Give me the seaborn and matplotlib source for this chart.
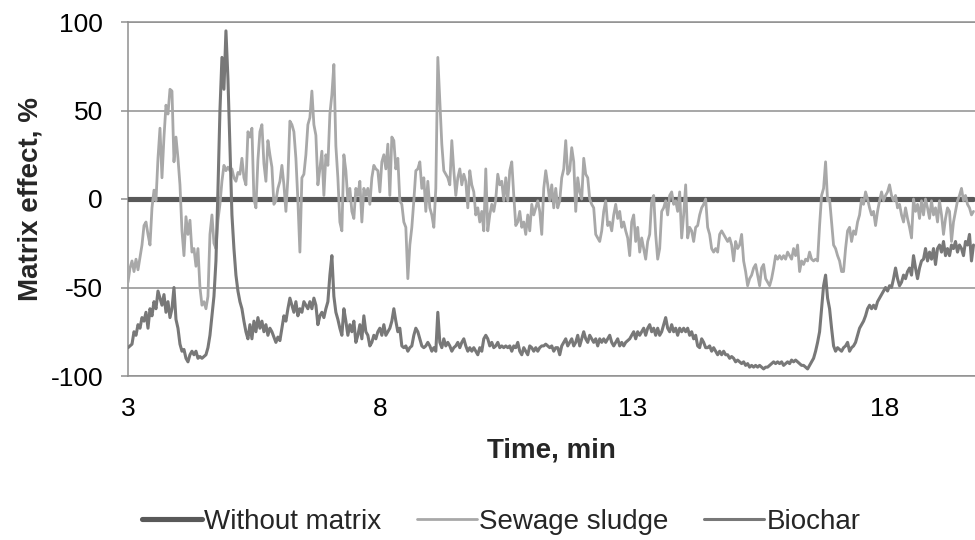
import numpy as np
import pandas as pd
import matplotlib
matplotlib.use("Agg")
import matplotlib.pyplot as plt
import seaborn as sns

# Retention window of the scan (min)
scan_start = 3.0
scan_end = 19.77

# Matrix effect (%) along the run, one value per scan
sewage_sludge = [
    -47, -39, -35, -41, -34, -40, -33, -26, -15, -13, -20, -26, -5, 5, -1, 23, 40, 12, 35, 53,
    48, 62, 61, 21, 35, 23, 8, -18, -32, -10, -20, -12, -30, -28, -38, -28, -50, -60, -58, -62,
    -55, -20, -9, -25, -28, -12, -3, 10, 19, 16, 18, 16, 17, 12, 10, 15, 14, 23, 12, 8,
    38, 35, 40, 0, -5, 22, 38, 42, 20, 10, 33, 25,
    18, -3, -1, 6, 10, 19, 8, -7, 12, 44, 42, 38, 23, -1, -30, 12, 14, 25, 42, 46,
    61, 42, 36, 8, 17, 27, 2, 25, 19, 48, 59, 76, 30, 12, -13, -18, 25, 16, -1, 6,
    -7, -11, 6, 2, 10, -13, 6, 2, 6, -3, 12, 19, 17, 16, 4, 21, 25, 17, 31, 2,
    35, 33, 17, 23, -1, -3, -13, -16, -45, -26, -16,
    -1, 16, 17, 21, 6, 12, -7, 10, -5, -9, -16, 6, 80, 55, 31, 16, 14, 12, 8, 33,
    16, 2, 12, 17, 8, 14, 10, -5, 16, 8, 4, -9, -5, -13, -7, -18, 17, -18, -9, -3,
    -7, 0, 14, 8, 10, -1, 12, -1, 16, 21, 2, -15, -13, -7, -16, -13, -20, -9, -18, -3,
    -9, -5, -1, -7, -20, 6, 16, 8, -1, 8, -5, 6,
    -5, -1, 12, 17, 33, 14, 16, 29, 21, -7, 12, 4, 0, 23, 14, 12, 0, -3, -5, -20,
    -22, -24, -18, -7, -1, -15, -13, -18, -9, -3, -11, -7, -16, -13, -18, -22, -32, -13, -9, -24,
    -16, -30, -22, -28, -34, -24, -20, -1, 2, -20, -34, -28, -7, -5, -1, -9, 2, 4, -3, -1,
    -7, 4, -22, -9, 8, -22, -16, -18, -24, -16, -15, -9, -5,
    -3, 0, -16, -20, -28, -30, -28, -30, -20, -18, -20, -22, -24, -22, -26, -35, -24, -28, -26, -20,
    -35, -41, -49, -45, -43, -39, -37, -43, -49, -39, -37, -45, -47, -49, -45, -39, -32, -34, -32, -34,
    -32, -34, -30, -32, -34, -28, -32, -26, -41, -35, -37, -34, -35, -30, -34, -35, -34, -35, -15, 2,
    6, 21, -1, 0, -13, -26, -28, -32, -35, -41, -41, -28, -18,
    -16, -24, -18, -20, -13, -9, 0, -3, 4, 0, -5, -9, -7, -15, -7, -1, 4, -1, 2, 4,
    8, 2, -1, 2, -5, -3, -9, -13, -5, -11, -16, -22, 0, -7, -3, -11, -1, -9, 0, -5,
    -11, -1, -9, -5, -13, -1, -9, -20, -11, -5, -7, -24, -13, -7, -1, 2, 6, -1, 2, -3,
    -5, -9, -7,
]

biochar = [
    -84, -83, -82, -75, -77, -71, -73, -67, -69, -64, -73, -62, -66, -58, -62, -52, -56, -60, -54, -64,
    -58, -67, -62, -50, -68, -73, -82, -86, -85, -90, -92, -88, -86, -88, -86, -90, -89, -90, -89, -88,
    -84, -77, -66, -55, -35, 5, 50, 80, 62, 95, 68, 29, -9, -28, -43, -52, -58, -62, -69, -75,
    -79, -71, -79, -69, -75, -67, -73, -69, -75, -71, -77, -73,
    -75, -78, -81, -78, -80, -73, -66, -69, -62, -56, -60, -64, -58, -66, -62, -64, -58, -60, -62, -58,
    -62, -56, -60, -71, -66, -64, -67, -62, -58, -43, -32, -55, -64, -68, -73, -77, -62, -69, -77, -71,
    -75, -69, -81, -77, -71, -79, -66, -75, -77, -83, -81, -77, -79, -75, -73, -77, -71, -77, -75, -73,
    -69, -62, -69, -75, -73, -83, -84, -83, -86, -84, -83,
    -77, -73, -75, -79, -83, -84, -83, -81, -83, -86, -84, -86, -64, -81, -84, -79, -83, -81, -83, -86,
    -84, -83, -81, -84, -81, -79, -83, -86, -84, -86, -84, -86, -88, -84, -86, -79, -77, -79, -83, -81,
    -84, -83, -81, -84, -83, -84, -83, -84, -83, -86, -83, -84, -81, -86, -88, -84, -86, -88, -83, -84,
    -86, -84, -86, -84, -83, -83, -82, -83, -84, -83, -86, -84,
    -84, -88, -83, -81, -79, -83, -81, -79, -83, -81, -77, -83, -79, -75, -79, -81, -77, -79, -81, -79,
    -83, -79, -81, -79, -81, -79, -77, -81, -83, -81, -79, -83, -81, -83, -81, -80, -79, -77, -75, -79,
    -75, -77, -75, -73, -77, -73, -71, -75, -73, -77, -73, -77, -75, -71, -67, -73, -75, -71, -75, -73,
    -77, -73, -75, -73, -75, -73, -77, -75, -79, -77, -83, -84, -79,
    -81, -84, -84, -83, -86, -84, -86, -88, -86, -88, -86, -88, -88, -90, -89, -90, -92, -91, -92, -93,
    -92, -94, -93, -95, -94, -95, -94, -95, -94, -95, -96, -95, -95, -94, -93, -92, -93, -92, -93, -92,
    -94, -93, -92, -93, -91, -92, -91, -92, -93, -94, -94, -95, -96, -94, -92, -90, -86, -81, -75, -62,
    -49, -43, -56, -62, -73, -83, -86, -84, -85, -86, -84, -83, -81,
    -86, -84, -83, -81, -77, -73, -71, -69, -66, -62, -60, -62, -60, -62, -58, -56, -54, -52, -50, -52,
    -49, -50, -45, -39, -45, -49, -47, -43, -45, -41, -39, -43, -32, -39, -45, -39, -35, -34, -28, -35,
    -30, -34, -28, -37, -28, -26, -30, -24, -32, -28, -32, -26, -28, -24, -30, -26, -28, -32, -24, -26,
    -20, -35, -26,
]

without_matrix_level = 0.0

series_names = ["Without matrix", "Sewage sludge", "Biochar"]
x_ticks = [3, 8, 13, 18]
y_ticks = [-100, -50, 0, 50, 100]

n = len(biochar)
time = np.linspace(scan_start, scan_end, n)
df = pd.DataFrame({
    "time": np.concatenate([time, time, time]),
    "effect": np.concatenate([np.full(n, without_matrix_level),
                              np.asarray(sewage_sludge, float),
                              np.asarray(biochar, float)]),
    "series": np.repeat(series_names, n),
})

sns.set_theme(style="white")
plt.rcParams["font.family"] = ["Liberation Sans", "DejaVu Sans"]

colors = {"Without matrix": "#595959", "Sewage sludge": "#a8a8a8", "Biochar": "#787878"}
widths = {"Without matrix": 3.7, "Sewage sludge": 2.0, "Biochar": 2.2}
grid_col = "#8f8f8f"

fig = plt.figure(figsize=(9.75, 5.4), dpi=100)
ax = fig.add_axes([128 / 975, 164 / 540, 847 / 975, 354 / 540])

for z, name in enumerate(series_names):
    sub = df[df["series"] == name]
    sns.lineplot(data=sub, x="time", y="effect", ax=ax, color=colors[name],
                 linewidth=widths[name], label=name, errorbar=None, zorder=3 + z)

ax.set_xlim(3, 19.8)
ax.set_ylim(-100, 100)
ax.set_xticks(x_ticks)
ax.set_yticks(y_ticks)
ax.set_xticklabels([str(v) for v in x_ticks])
ax.set_yticklabels([str(v) for v in y_ticks])

ax.yaxis.grid(True, color=grid_col, linewidth=1.1)
ax.xaxis.grid(False)
ax.set_axisbelow(True)
for side in ["left", "top", "bottom"]:
    ax.spines[side].set_visible(True)
    ax.spines[side].set_color(grid_col)
    ax.spines[side].set_linewidth(1.1)
ax.spines["right"].set_visible(False)

ax.tick_params(axis="y", length=5, width=1.1, color=grid_col, direction="out",
               pad=13, labelsize=19, labelcolor="black", left=True)
ax.tick_params(axis="x", length=0, pad=15, labelsize=19, labelcolor="black")

ax.set_xlabel("Time, min", fontsize=20, fontweight="bold", labelpad=12)
ax.set_ylabel("Matrix effect, %", fontsize=20, fontweight="bold", labelpad=5)

handles, labels = ax.get_legend_handles_labels()
ax.get_legend().remove()
fig.legend(handles, labels, loc="center", bbox_to_anchor=(0.514, 1 - 522 / 540),
           ncol=3, frameon=False, fontsize=20, handlelength=2.15,
           handletextpad=0.08, columnspacing=1.3)

fig.savefig("out.png", dpi=100)
